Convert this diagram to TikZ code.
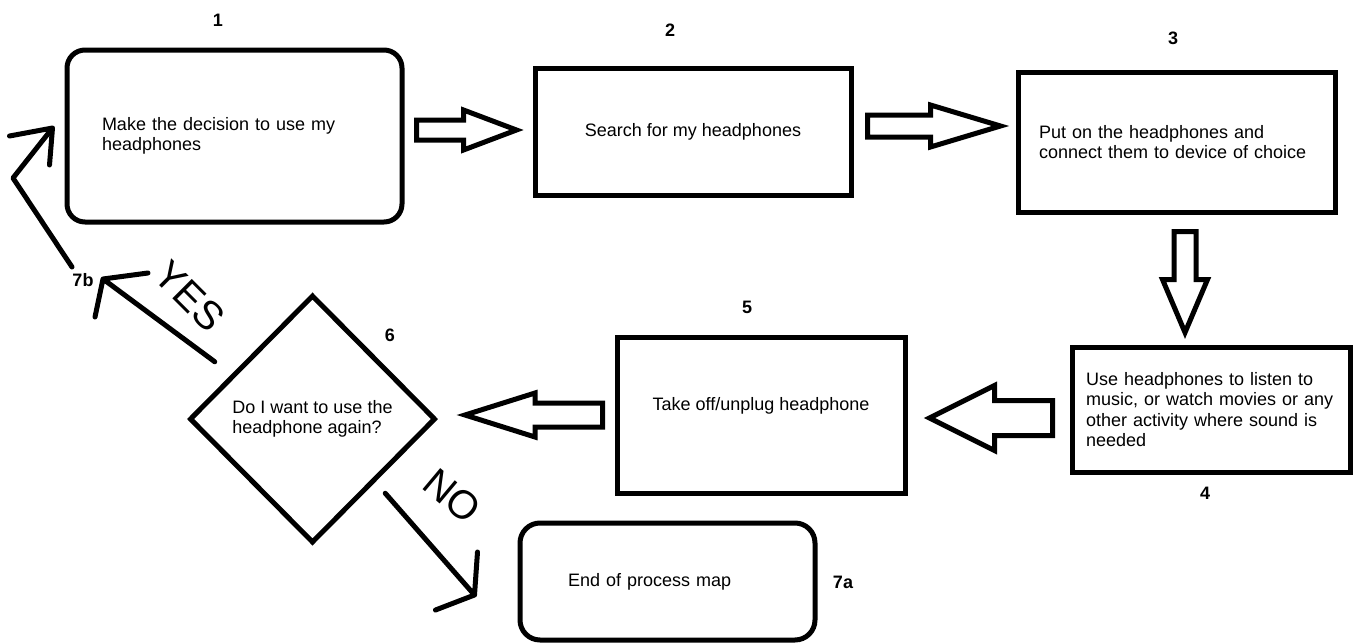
\documentclass[tikz,border=0pt]{standalone}
\usepackage{fontspec}
\setmainfont{Liberation Sans}
\usetikzlibrary{shapes.geometric, calc}
\newcommand{\boxfont}{\fontsize{18}{20.5}\selectfont}
\newcommand{\handfont}{\fontsize{40}{40}\selectfont}
% block arrow: from, to, shaft half width, head half width, head length
\newcommand{\blockarrow}[5]{%
  \coordinate (ba-head) at ($(#2)!#5!(#1)$);
  \draw [blockline] ($(#1)!#3!90:(#2)$) -- ($(ba-head)!#3!90:(#2)$) -- ($(ba-head)!#4!90:(#2)$) -- (#2)
        -- ($(ba-head)!#4!-90:(#2)$) -- ($(ba-head)!#3!-90:(#2)$) -- ($(#1)!#3!-90:(#2)$) -- cycle;
}
\tikzset{stepbox/.style={draw, line width=5pt, inner sep=0pt, font=\boxfont},
         roundbox/.style={stepbox, rounded corners=18pt},
         numlabel/.style={font=\bfseries\boxfont},
         blockline/.style={line width=5pt, line join=miter},
         hand/.style={line width=5pt, line cap=round, line join=round}
        }

\begin{document}
\begin{tikzpicture}[x=1pt, y=-1pt]
        \useasboundingbox (0,0) rectangle (1355,643);
        % steps
        \node [roundbox, minimum width=335pt, minimum height=172pt, text width=265pt, align=left] (s1) at (234.5,136) {Make the decision to use my\\headphones};
        \node [stepbox, minimum width=316pt, minimum height=127pt] (s2) at (693,131.5) {Search for my headphones};
        \node [stepbox, minimum width=317pt, minimum height=140pt, text width=275pt, align=left] (s3) at (1176.5,142) {Put on the headphones and\\connect them to device of choice};
        \node [stepbox, minimum width=278pt, minimum height=125pt, text width=250pt, align=left] (s4) at (1211,409.5) {Use headphones to listen to\\music, or watch movies or any\\other activity where sound is\\needed};
        \node [stepbox, minimum width=288pt, minimum height=156pt, text depth=22pt] (s5) at (761,415) {Take off/unplug headphone};
        \node [diamond, draw, line width=5pt, inner sep=0pt, minimum width=246pt, minimum height=248pt, align=left, font=\boxfont] (s6) at (312.5,419) {Do I want to use the\\headphone again?};
        \node [roundbox, rounded corners=20pt, minimum width=295pt, minimum height=117pt, text width=199pt, align=left] (s7a) at (667.5,581.5) {End of process map};

        % numbers
        \node [numlabel] (n1) at (218,20) {1};
        \node [numlabel] (n2) at (670,30) {2};
        \node [numlabel] (n3) at (1173,38) {3};
        \node [numlabel] (n4) at (1205,493) {4};
        \node [numlabel] (n5) at (747,307) {5};
        \node [numlabel] (n6) at (390,335) {6};
        \node [numlabel] (n7a) at (843,582) {7a};
        \node [numlabel] (n7b) at (83,280) {7b};

        % block arrows
        \coordinate (a12-from) at ([shift={(12,-6)}]s1.east);
        \coordinate (a12-to) at ([shift={(-16,-1.5)}]s2.west);
        \coordinate (a23-from) at ([shift={(14,-5.5)}]s2.east);
        \coordinate (a23-to) at ([shift={(-15,-16)}]s3.west);
        \coordinate (a34-from) at ([shift={(8.5,17)}]s3.south);
        \coordinate (a34-to) at ([shift={(-26,-12)}]s4.north);
        \coordinate (a45-from) at ([shift={(-17,8.5)}]s4.west);
        \coordinate (a45-to) at ([shift={(22,3)}]s5.east);
        \coordinate (a56-from) at ([shift={(-12,0)}]s5.west);
        \coordinate (a56-to) at ([shift={(27,-4)}]s6.east);
        \blockarrow{a12-from}{a12-to}{10pt}{20pt}{53pt}
        \blockarrow{a23-from}{a23-to}{11pt}{21pt}{70pt}
        \blockarrow{a34-from}{a34-to}{11pt}{22.5pt}{53pt}
        \blockarrow{a45-from}{a45-to}{17.5pt}{32.5pt}{65pt}
        \blockarrow{a56-from}{a56-to}{12pt}{22pt}{70pt}

        % hand drawn arrows
        \coordinate (yes-from) at ([shift={(-35,6)}]s6.north west);
        \coordinate (yes-to) at ([shift={(20,-1)}]n7b.center);
        \draw [hand] (yes-from) -- (yes-to) -- +(45,-6) (yes-to) -- +(-8,38);
        \coordinate (back-from) at ([shift={(-11,-13)}]n7b.center);
        \coordinate (back-bend) at (13,178);
        \coordinate (back-to) at ([shift={(-12,-8)}]s1.west);
        \draw [hand] (back-from) -- (back-bend) -- (back-to) -- +(-43,8) (back-to) -- +(-3,37);
        \coordinate (no-from) at ([shift={(10,11)}]s6.south east);
        \coordinate (no-to) at ([shift={(-43,13.5)}]s7a.west);
        \draw [hand] (no-from) -- (no-to) -- +(3,-43) (no-to) -- +(-39,15);
        \node [rotate=-45, font=\handfont] (yes) at (190,296) {YES};
        \node [rotate=-40, font=\handfont] (no) at (452,496) {NO};
      \end{tikzpicture}
\end{document}
